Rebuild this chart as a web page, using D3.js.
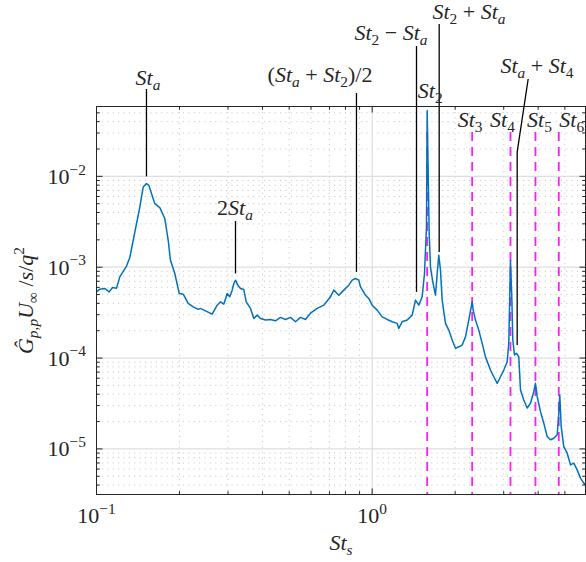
<!DOCTYPE html>
<html>
<head>
<meta charset="utf-8">
<script src="https://cdn.jsdelivr.net/npm/d3@7"></script>
<style>
  html, body { margin: 0; padding: 0; background: #fff; }
  svg { display: block; }
  text { font-family: "Liberation Serif", "DejaVu Serif", serif; fill: #262626; white-space: pre; }
</style>
</head>
<body>
<svg id="chart" width="586" height="562"></svg>
<script>
// Strouhal number St_s of each spectrum sample
const strouhal = [
  0.1000, 0.1028, 0.1072, 0.1112, 0.1143, 0.1182, 0.1215, 0.1285, 0.1321, 0.1359,
  0.1397, 0.1436, 0.1477, 0.1518, 0.1548, 0.1583, 0.1627, 0.1697, 0.1769, 0.1820,
  0.1855, 0.1923, 0.1995, 0.2063, 0.2151, 0.2243, 0.2338, 0.2384, 0.2485, 0.2628,
  0.2740, 0.2817, 0.2896, 0.2979, 0.3044, 0.3106, 0.3148, 0.3193, 0.3255, 0.3329,
  0.3422, 0.3491, 0.3619, 0.3720, 0.3827, 0.3934, 0.4102, 0.4277, 0.4459, 0.4649,
  0.4848, 0.5054, 0.5270, 0.5495, 0.5729, 0.5973, 0.6317, 0.6675, 0.7059, 0.7256,
  0.7566, 0.7889, 0.8225, 0.8462, 0.8699, 0.8942, 0.9069, 0.9456, 0.9720, 1.0000,
  1.0427, 1.0872, 1.1335, 1.1819, 1.2322, 1.2488, 1.2848, 1.3396, 1.3967, 1.4357,
  1.4759, 1.5184, 1.5479, 1.5739, 1.5830, 1.6098, 1.6273, 1.6589, 1.6967, 1.7210,
  1.7441, 1.7691, 1.7944, 1.8445, 1.8961, 1.9507, 2.0052, 2.0613, 2.1206, 2.1799,
  2.2408, 2.3050, 2.3246, 2.3697, 2.4359, 2.5061, 2.5761, 2.6863, 2.7614, 2.8409,
  2.9203, 3.0019, 3.0884, 3.1299, 3.1740, 3.2093, 3.2362, 3.2825, 3.3378, 3.4025,
  3.4512, 3.5477, 3.6499, 3.7519, 3.8568, 3.9110, 3.9680, 4.0788, 4.1928, 4.3135,
  4.4341, 4.5580, 4.6893, 4.7520, 4.7920, 4.8490, 4.9550, 5.0980, 5.2400, 5.3860,
  5.5410, 5.6950, 5.8550, 5.9890
];

// Normalised pressure spectrum G_pp U_inf / s / q^2 at each sample
const spectrum = [
  5.35e-4, 5.73e-4, 5.83e-4, 5.35e-4, 5.98e-4, 5.88e-4, 7.82e-4, 1.03e-3, 1.28e-3, 1.98e-3,
  3.02e-3, 4.60e-3, 7.63e-3, 8.31e-3, 7.96e-3, 6.46e-3, 5.01e-3, 4.53e-3, 3.43e-3, 1.98e-3,
  1.19e-3, 8.53e-4, 5.14e-4, 5.05e-4, 3.99e-4, 3.66e-4, 3.43e-4, 3.52e-4, 3.31e-4, 3.04e-4,
  3.82e-4, 4.16e-4, 3.92e-4, 5.14e-4, 4.72e-4, 5.59e-4, 6.62e-4, 7.20e-4, 6.34e-4, 5.83e-4,
  5.69e-4, 4.16e-4, 3.52e-4, 2.73e-4, 2.97e-4, 2.73e-4, 2.62e-4, 2.66e-4, 2.57e-4, 2.80e-4,
  2.66e-4, 2.80e-4, 2.51e-4, 2.80e-4, 2.66e-4, 3.12e-4, 3.52e-4, 3.82e-4, 4.72e-4, 5.59e-4,
  4.92e-4, 5.59e-4, 6.34e-4, 7.20e-4, 7.51e-4, 7.20e-4, 6.07e-4, 4.92e-4, 4.53e-4, 3.82e-4,
  3.37e-4, 2.84e-4, 2.66e-4, 2.51e-4, 2.41e-4, 2.12e-4, 2.51e-4, 2.62e-4, 2.97e-4, 4.34e-4,
  3.82e-4, 4.72e-4, 8.53e-4, 2.77e-3, 5.31e-2, 2.35e-3, 1.01e-3, 6.90e-4, 4.92e-4, 8.53e-4,
  1.35e-3, 9.27e-4, 4.34e-4, 2.41e-4, 2.03e-4, 1.58e-4, 1.28e-4, 1.33e-4, 1.39e-4, 1.71e-4,
  2.62e-4, 4.16e-4, 3.37e-4, 2.62e-4, 2.03e-4, 1.45e-4, 1.03e-4, 7.38e-5, 6.23e-5, 5.27e-5,
  6.23e-5, 7.38e-5, 9.10e-5, 1.45e-4, 1.19e-3, 4.72e-4, 1.58e-4, 1.08e-4, 1.13e-4, 1.03e-4,
  4.45e-5, 3.46e-5, 2.82e-5, 3.18e-5, 4.26e-5, 5.27e-5, 3.76e-5, 2.57e-5, 1.92e-5, 1.37e-5,
  1.26e-5, 1.31e-5, 1.43e-5, 2.47e-5, 3.92e-5, 1.76e-5, 1.06e-5, 8.97e-6, 6.67e-6, 6.97e-6,
  5.88e-6, 4.77e-6, 4.20e-6, 3.92e-6
];

// Tonal Strouhal numbers, drawn as dashed verticals
const toneLabels = ["St_2", "St_3", "St_4", "St_5", "St_6"];
const toneStrouhal = [1.583, 2.305, 3.174, 3.911, 4.752];

// Annotated spectral peaks and the level each leader line reaches down to
const peakLabels = ["St_a", "2St_a", "(St_a + St_2)/2", "St_2 − St_a", "St_2 + St_a", "St_a + St_4"];
const peakStrouhal = [0.1518, 0.3193, 0.877, 1.448, 1.750, 3.357];
const peakLevels = [1.0e-2, 8.53e-4, 8.88e-4, 5.35e-4, 1.47e-3, 1.39e-4];

// Axis ticks
const xTickValues = [0.1, 1];
const xTickLabels = ["10^{−1}", "10^{0}"];
const yTickValues = [1e-5, 1e-4, 1e-3, 1e-2];
const yTickLabels = ["10^{−5}", "10^{−4}", "10^{−3}", "10^{−2}"];
const xLimits = [0.1, 5.94];
const yLimits = [3.15e-6, 0.0587];

// ---------------------------------------------------------------------------
const W = 586, H = 562;
const plot = { left: 96.5, right: 585.5, top: 106.5, bottom: 494.5 };
const FONT = 22;

const svg = d3.select("#chart");
const x = d3.scaleLog().domain(xLimits).range([plot.left, plot.right]);
const y = d3.scaleLog().domain(yLimits).range([plot.bottom, plot.top]);

// Minimal TeX-like text: _x / _{..} subscripts, ^x / ^{..} superscripts,
// letters italic, digits and operators upright.
function mathText(textSel, src, size) {
  const tokens = [];
  let i = 0;
  while (i < src.length) {
    const c = src[i];
    if (c === "_" || c === "^") {
      const level = c === "_" ? "sub" : "sup";
      i++;
      let body;
      if (src[i] === "{") { const j = src.indexOf("}", i); body = src.slice(i + 1, j); i = j + 1; }
      else { body = src[i]; i++; }
      tokens.push({ str: body, level });
    } else {
      let j = i;
      while (j < src.length && src[j] !== "_" && src[j] !== "^") j++;
      tokens.push({ str: src.slice(i, j), level: "base" });
      i = j;
    }
  }
  let cur = 0;
  const letter = /[A-Za-zĜ]/;
  tokens.forEach(tk => {
    const fs = tk.level === "base" ? size : size * 0.7;
    const off = tk.level === "sub" ? size * 0.22 : tk.level === "sup" ? -size * 0.42 : 0;
    const runs = tk.str.match(/[A-Za-zĜ]+|[^A-Za-zĜ]+/g) || [];
    runs.forEach((r, k) => {
      const ts = textSel.append("tspan").text(r)
        .attr("font-size", fs)
        .attr("font-style", letter.test(r) ? "italic" : "normal");
      if (k === 0) { ts.attr("dy", off - cur); cur = off; }
    });
  });
  return textSel;
}

svg.append("rect").attr("width", W).attr("height", H).attr("fill", "#fff");

svg.append("defs").append("clipPath").attr("id", "plot-clip")
  .append("rect")
  .attr("x", plot.left).attr("y", plot.top)
  .attr("width", plot.right - plot.left).attr("height", plot.bottom - plot.top);

// Tick sets for a log axis
function minorTicks(domain) {
  const out = [];
  const lo = Math.floor(Math.log10(domain[0])), hi = Math.ceil(Math.log10(domain[1]));
  for (let e = lo; e <= hi; e++) {
    for (let m = 2; m <= 9; m++) {
      const v = m * Math.pow(10, e);
      if (v > domain[0] && v < domain[1]) out.push(v);
    }
  }
  return out;
}
const xMinor = minorTicks(xLimits);
const yMinor = minorTicks(yLimits);

// Grid
const grid = svg.append("g");
grid.selectAll(".xmin").data(xMinor).join("line")
  .attr("x1", d => x(d)).attr("x2", d => x(d))
  .attr("y1", plot.top).attr("y2", plot.bottom)
  .attr("stroke", "#bcbcbc").attr("stroke-width", 0.9).attr("stroke-dasharray", "1,4.4");
grid.selectAll(".ymin").data(yMinor).join("line")
  .attr("y1", d => y(d)).attr("y2", d => y(d))
  .attr("x1", plot.left).attr("x2", plot.right)
  .attr("stroke", "#bcbcbc").attr("stroke-width", 0.9).attr("stroke-dasharray", "1,4.4");
grid.selectAll(".xmaj").data(xTickValues.filter(v => v > xLimits[0])).join("line")
  .attr("x1", d => x(d)).attr("x2", d => x(d))
  .attr("y1", plot.top).attr("y2", plot.bottom)
  .attr("stroke", "#dedede").attr("stroke-width", 1.2);
grid.selectAll(".ymaj").data(yTickValues).join("line")
  .attr("y1", d => y(d)).attr("y2", d => y(d))
  .attr("x1", plot.left).attr("x2", plot.right)
  .attr("stroke", "#dedede").attr("stroke-width", 1.2);

// Tonal dashed lines
const toneTop = 0.0307;
svg.append("g").selectAll("line").data(toneStrouhal).join("line")
  .attr("x1", d => x(d)).attr("x2", d => x(d))
  .attr("y1", y(toneTop)).attr("y2", plot.bottom)
  .attr("stroke", "#ff1dff").attr("stroke-width", 1.8).attr("stroke-dasharray", "9,6");

// Spectrum
const line = d3.line().x(d => x(d[0])).y(d => y(d[1]));
svg.append("path")
  .datum(d3.zip(strouhal, spectrum))
  .attr("clip-path", "url(#plot-clip)")
  .attr("d", line)
  .attr("fill", "none").attr("stroke", "#0072BD").attr("stroke-width", 1.5)
  .attr("stroke-linejoin", "round");

// Leader lines and peak labels
const labelBaseline = [85, 215, 82, 40, 19, 73];
const leaderTop = [89, 221, 93, 46, 24, 79];
const ann = svg.append("g");
peakStrouhal.forEach((st, k) => {
  const xb = x(st), yb = y(peakLevels[k]);
  let pts;
  if (k === 5) {
    const kink = 152;
    pts = [[xb + 11, leaderTop[k]], [xb, kink], [xb, yb]];
  } else {
    pts = [[xb, leaderTop[k]], [xb, yb]];
  }
  ann.append("path").attr("d", d3.line()(pts))
    .attr("fill", "none").attr("stroke", "#000").attr("stroke-width", 1.3);
  const lx = [148, 235, 320, 391, 469, 537][k];
  mathText(ann.append("text").attr("x", lx).attr("y", labelBaseline[k]).attr("text-anchor", "middle"),
    peakLabels[k], FONT);
});

// Tone labels
const toneDx = [3, -2, -8, 4, 13];
const toneBaseline = [98, 127, 127, 127, 127];
toneStrouhal.forEach((st, k) => {
  mathText(svg.append("text").attr("x", x(st) + toneDx[k]).attr("y", toneBaseline[k])
    .attr("text-anchor", "middle"), toneLabels[k], FONT);
});

// Axes box with inward ticks on all sides
const axes = svg.append("g").attr("stroke", "#262626").attr("stroke-width", 1);
axes.append("rect").attr("x", plot.left).attr("y", plot.top)
  .attr("width", plot.right - plot.left).attr("height", plot.bottom - plot.top)
  .attr("fill", "none");
const tickMaj = 6, tickMin = 3.3;
[[xTickValues, tickMaj], [xMinor, tickMin]].forEach(([vals, len]) => {
  vals.forEach(v => {
    const xv = x(v);
    axes.append("line").attr("x1", xv).attr("x2", xv).attr("y1", plot.bottom).attr("y2", plot.bottom - len);
    axes.append("line").attr("x1", xv).attr("x2", xv).attr("y1", plot.top).attr("y2", plot.top + len);
  });
});
[[yTickValues, tickMaj], [yMinor, tickMin]].forEach(([vals, len]) => {
  vals.forEach(v => {
    const yv = y(v);
    axes.append("line").attr("y1", yv).attr("y2", yv).attr("x1", plot.left).attr("x2", plot.left + len);
    axes.append("line").attr("y1", yv).attr("y2", yv).attr("x1", plot.right).attr("x2", plot.right - len);
  });
});

// Tick labels
xTickValues.forEach((v, k) => {
  mathText(svg.append("text").attr("x", x(v)).attr("y", 523).attr("text-anchor", "middle"),
    xTickLabels[k], FONT);
});
yTickValues.forEach((v, k) => {
  mathText(svg.append("text").attr("x", 86).attr("y", y(v) + 7.5).attr("text-anchor", "end"),
    yTickLabels[k], FONT);
});

// Axis titles
mathText(svg.append("text").attr("x", (plot.left + plot.right) / 2).attr("y", 550)
  .attr("text-anchor", "middle"), "St_s", FONT);
mathText(svg.append("text")
  .attr("transform", `translate(33,${(plot.top + plot.bottom) / 2}) rotate(-90)`)
  .attr("text-anchor", "middle"), "Ĝ_{p,p}U_{∞} /s/q^2", FONT);
</script>
</body>
</html>
